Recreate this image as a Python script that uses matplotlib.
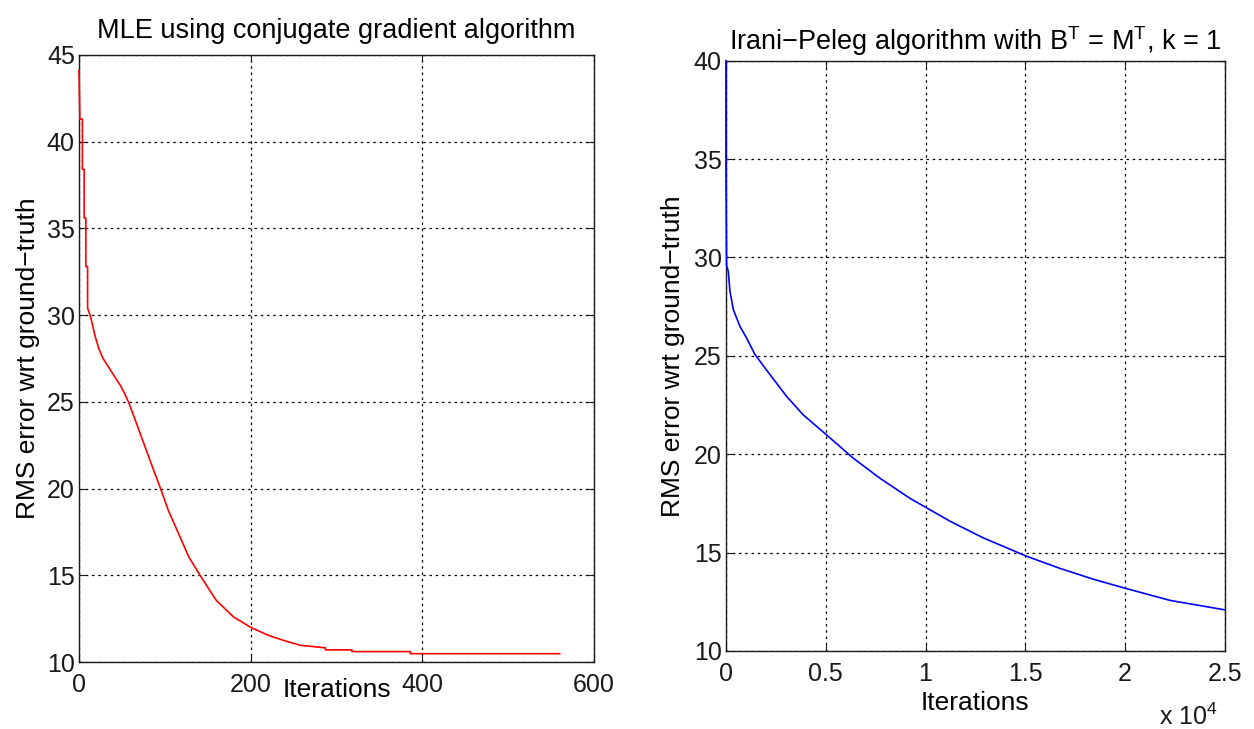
import matplotlib
matplotlib.use("Agg")
import matplotlib.pyplot as plt
import matplotlib.ticker as mticker

plt.rcParams['font.family'] = ['Liberation Sans', 'DejaVu Sans']
plt.rcParams['mathtext.fontset'] = 'custom'
plt.rcParams['mathtext.rm'] = 'Liberation Sans'
plt.rcParams['mathtext.it'] = 'Liberation Sans:italic'

# Left panel: MLE with conjugate gradient
mle_iter = [0, 1, 4, 4, 6, 6, 8, 8, 10, 10, 13, 19, 23, 28, 38, 48, 53, 58, 67, 77, 87,
            95, 104, 116, 128, 141, 151, 160, 180, 200, 220, 238, 258, 287, 287,
            318, 318, 386, 386, 560]
mle_rms = [44.1, 41.3, 41.3, 38.4, 38.4, 35.6, 35.6, 32.8, 32.8, 30.4, 30.0, 28.75,
           28.07, 27.5, 26.73, 25.96, 25.5, 24.95, 23.75, 22.4, 21.05, 20.0, 18.75, 17.4,
           16.05, 15.0, 14.23, 13.55, 12.6, 12.0, 11.55, 11.25, 10.96, 10.82, 10.7,
           10.7, 10.6, 10.6, 10.48, 10.48]

# Right panel: Irani-Peleg
ip_iter = [0, 0, 30, 117, 200, 367, 701, 1037, 1453, 2204, 3040, 3873, 5045, 6378,
           7715, 9218, 11220, 12890, 15030, 16730, 18400, 20000, 22260, 25000]
ip_rms = [40, 35, 29.6, 29.3, 28.3, 27.36, 26.5, 25.9, 25.07, 24.05, 22.94, 22.0,
          20.98, 19.8, 18.78, 17.76, 16.6, 15.75, 14.83, 14.2, 13.65, 13.19, 12.57,
          12.09]

left_xticks = [0, 200, 400, 600]
left_yticks = [10, 15, 20, 25, 30, 35, 40, 45]
right_xticks = [0, 5000, 10000, 15000, 20000, 25000]
right_yticks = [10, 15, 20, 25, 30, 35, 40]

TICK_FS = 18
LABEL_FS = 19
TITLE_FS = 19.5
YLABEL = 'RMS error wrt ground\u2212truth'

fig = plt.figure(figsize=(12.54, 7.29), dpi=100)
ax1 = fig.add_axes([0.0630, 0.0919, 0.4107, 0.8327])
ax2 = fig.add_axes([0.5789, 0.1070, 0.3979, 0.8097])


def style_axes(ax):
    ax.set_axisbelow(True)
    ax.grid(True, color='k', linestyle=(0, (2, 3)), linewidth=0.9)
    ax.tick_params(direction='in', length=5, width=0.8, top=True, right=True,
                   labelsize=TICK_FS, colors='#1a1a1a')
    ax.tick_params(axis='x', pad=8)
    ax.tick_params(axis='y', pad=3)
    for sp in ax.spines.values():
        sp.set_linewidth(1.0)
        sp.set_color('#1a1a1a')


ax1.plot(mle_iter, mle_rms, color='#ff0000', linewidth=1.2, zorder=3, clip_on=False)
ax1.set_xlim(0, 600)
ax1.set_ylim(10, 45)
ax1.set_xticks(left_xticks)
ax1.set_yticks(left_yticks)
style_axes(ax1)
ax1.set_title('MLE using conjugate gradient algorithm', fontsize=TITLE_FS, pad=12.5)
ax1.set_xlabel('Iterations', fontsize=LABEL_FS)
ax1.xaxis.label.set_va('center')
ax1.xaxis.set_label_coords(0.5, -0.046)
ax1.set_ylabel(YLABEL, fontsize=LABEL_FS, labelpad=5)

ax2.plot(ip_iter, ip_rms, color='#0000ff', linewidth=1.2, zorder=3, clip_on=False)
ax2.set_xlim(0, 25000)
ax2.set_ylim(10, 40)
ax2.set_xticks(right_xticks)
ax2.set_yticks(right_yticks)
ax2.xaxis.set_major_formatter(mticker.FuncFormatter(lambda v, p: f'{v / 1e4:g}'))
style_axes(ax2)
ax2.set_title(r'Irani$-$Peleg algorithm with B$^{\mathrm{T}}$ = M$^{\mathrm{T}}$, k = 1',
              fontsize=TITLE_FS, pad=7.5)
ax2.set_xlabel('Iterations', fontsize=LABEL_FS)
ax2.xaxis.label.set_va('center')
ax2.xaxis.set_label_coords(0.5, -0.088)
ax2.set_ylabel(YLABEL, fontsize=LABEL_FS, labelpad=6)
ax2.text(0.985, -0.112, r'x 10$^{4}$', transform=ax2.transAxes, ha='right', va='center',
         fontsize=TICK_FS, color='#1a1a1a')

fig.savefig('out.png', dpi=100)
